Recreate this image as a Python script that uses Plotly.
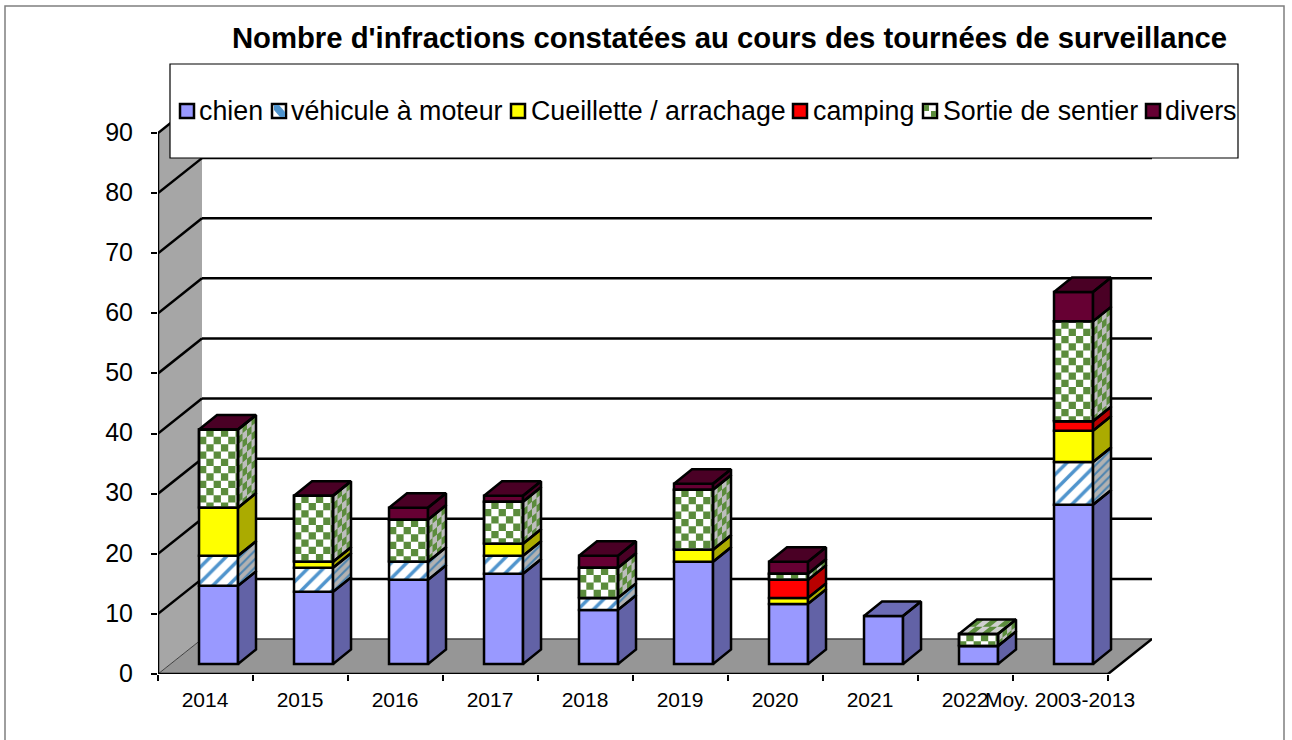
import plotly.graph_objects as go

categories = ["2014", "2015", "2016", "2017", "2018", "2019", "2020", "2021", "2022", "Moy. 2003-2013"]
chien = [13, 12, 14, 15, 9, 17, 10, 8, 3, 26.5]
vehicule = [5, 4, 3, 3, 2, None, None, None, None, 7.1]
cueillette = [8, 1, None, 2, None, 2, 1, None, None, 5.2]
camping = [None, None, None, None, None, None, 3, None, None, 1.6]
sortie = [13, 11, 7, 7, 5, 10, 1, None, 2, 16.6]
divers = [0, 0, 2, 1, 2, 1, 2, None, None, 4.9]
y_ticks = [0, 10, 20, 30, 40, 50, 60, 70, 80, 90]
title_text = "Nombre d'infractions constatées au cours des tournées de surveillance"

FONT = "Liberation Sans"
# pixel geometry of the plot frame
L, R, T, B = 158, 1152, 96, 674
PXX = 1 / 95.0        # x units per pixel
PXY = 10 / 60.11      # y units per pixel
XMAX = (R - L) * PXX
YMAX = (B - T) * PXY
WALL_X, WALL_Y = 44 * PXX, 35 * PXY
DX, DY = 18 * PXX, 14.5 * PXY
BAR_W = 39 * PXX
BAR_OFF = 0.637
BASE = 10 * PXY
CELL_X, CELL_Y = 7.3 * PXX, 7.3 * PXY
GREEN = "#5B8C3C"

series = [
    dict(name="chien", v=chien, front="#9999FF", side="#6262A6", cap="#6C6CB6", kind="solid"),
    dict(name="véhicule à moteur", v=vehicule, front="#FFFFFF", side="#B2B2B2", cap="#B2B2B2", kind="hatch"),
    dict(name="Cueillette / arrachage", v=cueillette, front="#FFFF00", side="#ABAB00", cap="#ABAB00", kind="solid"),
    dict(name="camping", v=camping, front="#FF0000", side="#B80000", cap="#B80000", kind="solid"),
    dict(name="Sortie de sentier", v=sortie, front="#FFFFFF", side="#BDBDBD", cap="#CFCFCF", kind="check"),
    dict(name="divers", v=divers, front="#660033", side="#4A0025", cap="#4A0025", kind="solid"),
]


def px(x):
    return (x - L) / (R - L)


def py(y):
    return (B - y) / (B - T)


def poly(pts, xs, ys):
    for a, b in pts + [pts[0]]:
        xs.append(a)
        ys.append(b)
    xs.append(None)
    ys.append(None)


fig = go.Figure()

# stack bookkeeping
n = len(categories)
cum = [BASE] * n
last = [None] * n
segments = []
for si, s in enumerate(series):
    bases, vals = [], []
    for i, v in enumerate(s["v"]):
        if v is None:
            bases.append(None)
            vals.append(None)
            continue
        bases.append(cum[i])
        vals.append(v)
        segments.append((si, i, cum[i], cum[i] + v))
        cum[i] += v
        last[i] = si
    marker = dict(color=s["front"], line=dict(color="black", width=2.5))
    if s["kind"] == "hatch":
        marker["pattern"] = dict(shape="/", size=11, solidity=0.32, fgcolor="#4F94CD",
                                 bgcolor="#FFFFFF", fillmode="replace")
    fig.add_trace(go.Bar(
        x=[i + BAR_OFF for i in range(n)], y=vals, base=bases, width=BAR_W,
        marker=marker, name=s["name"], showlegend=False, hoverinfo="skip"))

# side and cap faces
outline_x, outline_y = [], []
for si, s in enumerate(series):
    xs, ys, cx, cy = [], [], [], []
    for sj, i, y0, y1 in segments:
        if sj != si:
            continue
        x0 = i + BAR_OFF - BAR_W / 2
        x1 = i + BAR_OFF + BAR_W / 2
        side = [(x1, y0), (x1 + DX, y0 + DY), (x1 + DX, y1 + DY), (x1, y1)]
        poly(side, xs, ys)
        poly(side, outline_x, outline_y)
        if last[i] == si:
            cap = [(x0, y1), (x1, y1), (x1 + DX, y1 + DY), (x0 + DX, y1 + DY)]
            poly(cap, cx, cy)
            poly(cap, outline_x, outline_y)
    if not xs:
        continue
    kw = dict(fillcolor=s["side"])
    if s["kind"] == "hatch":
        kw["fillpattern"] = dict(shape="/", size=6, solidity=0.35, fgcolor="#4D84B0",
                                 bgcolor=s["side"], fillmode="replace")
    fig.add_trace(go.Scatter(x=xs, y=ys, mode="lines", line=dict(width=0), fill="toself",
                             showlegend=False, hoverinfo="skip", **kw))
    if cx:
        fig.add_trace(go.Scatter(x=cx, y=cy, mode="lines", line=dict(width=0), fill="toself",
                                 fillcolor=s["cap"], showlegend=False, hoverinfo="skip"))

# checker cells of the "Sortie de sentier" faces
ci = 4
gx, gy = [], []
for sj, i, y0, y1 in segments:
    if sj != ci:
        continue
    x0 = i + BAR_OFF - BAR_W / 2
    x1 = i + BAR_OFF + BAR_W / 2
    rows = int((y1 - y0) / CELL_Y) + 1
    cols = int((x1 - x0) / CELL_X) + 1
    for r in range(rows):
        ya = y1 - r * CELL_Y
        yb = max(y0, ya - CELL_Y)
        for c in range(cols):
            if (r + c) % 2:
                xa = x0 + c * CELL_X
                xb = min(x1, xa + CELL_X)
                poly([(xa, ya), (xb, ya), (xb, yb), (xa, yb)], gx, gy)
    # side: four columns across the depth
    for r in range(rows + 3):
        for c in range(4):
            if (r + c) % 2:
                continue
            ua, ub = c / 4, (c + 1) / 4
            top = y1 - r * CELL_Y + CELL_Y
            ya, yb = min(y1, top), max(y0, top - CELL_Y)
            if ya <= yb:
                continue
            poly([(x1 + ua * DX, ya + ua * DY), (x1 + ub * DX, ya + ub * DY),
                  (x1 + ub * DX, yb + ub * DY), (x1 + ua * DX, yb + ua * DY)], gx, gy)
    # cap
    if last[i] == ci:
        for r in range(2):
            for c in range(cols):
                if (r + c) % 2:
                    xa = c * CELL_X
                    xb = min(BAR_W, xa + CELL_X)
                    va, vb = r / 2, (r + 1) / 2
                    poly([(x0 + xa + va * DX, y1 + va * DY), (x0 + xb + va * DX, y1 + va * DY),
                          (x0 + xb + vb * DX, y1 + vb * DY), (x0 + xa + vb * DX, y1 + vb * DY)], gx, gy)
fig.add_trace(go.Scatter(x=gx, y=gy, mode="lines", line=dict(width=0), fill="toself",
                         fillcolor=GREEN, showlegend=False, hoverinfo="skip"))

# outlines on top
for sj, i, y0, y1 in segments:
    if series[sj]["kind"] == "check":
        x0 = i + BAR_OFF - BAR_W / 2
        x1 = i + BAR_OFF + BAR_W / 2
        poly([(x0, y0), (x1, y0), (x1, y1), (x0, y1)], outline_x, outline_y)
fig.add_trace(go.Scatter(x=outline_x, y=outline_y, mode="lines",
                         line=dict(color="black", width=2.5), showlegend=False, hoverinfo="skip"))

# walls, floor, grid
shapes = []


def path(pts):
    return "M " + " L ".join(f"{a},{b}" for a, b in pts) + " Z"


shapes.append(dict(type="path", layer="below", xref="x", yref="y", line=dict(width=0), fillcolor="#A6A6A6",
                   path=path([(0, 0), (WALL_X, WALL_Y), (WALL_X, 90 + WALL_Y), (0, 90)])))
shapes.append(dict(type="path", layer="below", xref="x", yref="y", line=dict(width=0), fillcolor="#969696",
                   path=path([(0, 0), (10, 0), (10 + WALL_X, WALL_Y), (WALL_X, WALL_Y)])))
for v in y_ticks:
    col, w = ("black", 2.5) if v else ("#404040", 1)
    shapes.append(dict(type="line", layer="below", xref="x", yref="y", x0=0, y0=v, x1=WALL_X, y1=v + WALL_Y,
                       line=dict(color=col, width=w)))
    shapes.append(dict(type="line", layer="below", xref="x", yref="y", x0=WALL_X, y0=v + WALL_Y,
                       x1=10 + WALL_X, y1=v + WALL_Y, line=dict(color=col, width=w if v else 1.5)))
shapes.append(dict(type="line", xref="x", yref="y", layer="below", x0=0, y0=0, x1=0, y1=90,
                   line=dict(color="black", width=2.5)))
shapes.append(dict(type="line", xref="x", yref="y", layer="below", x0=0, y0=0, x1=10, y1=0,
                   line=dict(color="black", width=2.5)))
shapes.append(dict(type="line", xref="x", yref="y", layer="below", x0=10, y0=0, x1=10 + WALL_X, y1=WALL_Y,
                   line=dict(color="black", width=2.5)))

# frame and legend box
shapes.append(dict(type="rect", xref="paper", yref="paper", x0=px(5), x1=px(1284), y0=py(760), y1=py(6),
                   line=dict(color="#7F7F7F", width=1.5), fillcolor="rgba(0,0,0,0)"))
shapes.append(dict(type="rect", xref="paper", yref="paper", x0=px(170), x1=px(1238), y0=py(158), y1=py(64),
                   line=dict(color="black", width=1.2), fillcolor="white"))

annotations = []
legend_pos = [(180, 197), (272, 289), (511, 529), (793, 811), (923, 941), (1146, 1163)]
SW = 14
for s, (sx, tx) in zip(series, legend_pos):
    shapes.append(dict(type="rect", xref="paper", yref="paper", x0=px(sx), x1=px(sx + SW), y0=py(118), y1=py(104),
                       fillcolor=s["front"], line=dict(color="black", width=2.5)))
    if s["kind"] == "hatch":
        shapes.append(dict(type="path", xref="paper", yref="paper", fillcolor="#4F94CD", line=dict(width=0),
                           path=path([(px(sx + 2), py(105)), (px(sx + 7), py(105)), (px(sx + 13), py(112)),
                                      (px(sx + 13), py(117)), (px(sx + 8), py(117)), (px(sx + 2), py(110))])))
    if s["kind"] == "check":
        for a, b in [(1, 105), (8, 111)]:
            shapes.append(dict(type="rect", xref="paper", yref="paper", x0=px(sx + a), x1=px(sx + a + 5),
                               y0=py(b + 6), y1=py(b), fillcolor=GREEN, line=dict(width=0)))
    annotations.append(dict(text=s["name"], xref="paper", yref="paper", x=px(tx), y=py(111), xanchor="left",
                            yanchor="middle", showarrow=False, font=dict(family=FONT, size=26.8, color="black")))

fig.update_layout(
    width=1292, height=740, margin=dict(l=L, r=1292 - R, t=T, b=740 - B),
    paper_bgcolor="white", plot_bgcolor="white", showlegend=False, barmode="overlay",
    font=dict(family=FONT, color="black"),
    title=dict(text=f"<b>{title_text}</b>", x=729.5 / 1292, y=1 - 38 / 740, xanchor="center", yanchor="middle",
               xref="container", yref="container", font=dict(family=FONT, size=29.3, color="black")),
    xaxis=dict(range=[0, XMAX], tickmode="array", tickvals=[i + 0.495 for i in range(n)], ticktext=categories,
               tickangle=0, ticks="", showgrid=False, zeroline=False, showline=False,
               tickfont=dict(family=FONT, size=21), ticklabelstandoff=11,
               minor=dict(tickmode="array", tickvals=list(range(n + 1)), ticks="outside", ticklen=6, tickwidth=1.5,
                          tickcolor="black", showgrid=False)),
    yaxis=dict(range=[0, YMAX], tickmode="array", tickvals=y_ticks, ticks="outside", ticklen=6, tickwidth=1.5,
               tickcolor="black", showgrid=False, zeroline=False, showline=False,
               tickfont=dict(family=FONT, size=25), ticklabelstandoff=13, ticklabelshift=-1),
    shapes=shapes, annotations=annotations,
)

fig.write_html("out.html", post_script="document.body.style.margin='0';document.documentElement.style.overflow='hidden';",
               config=dict(displayModeBar=False))
